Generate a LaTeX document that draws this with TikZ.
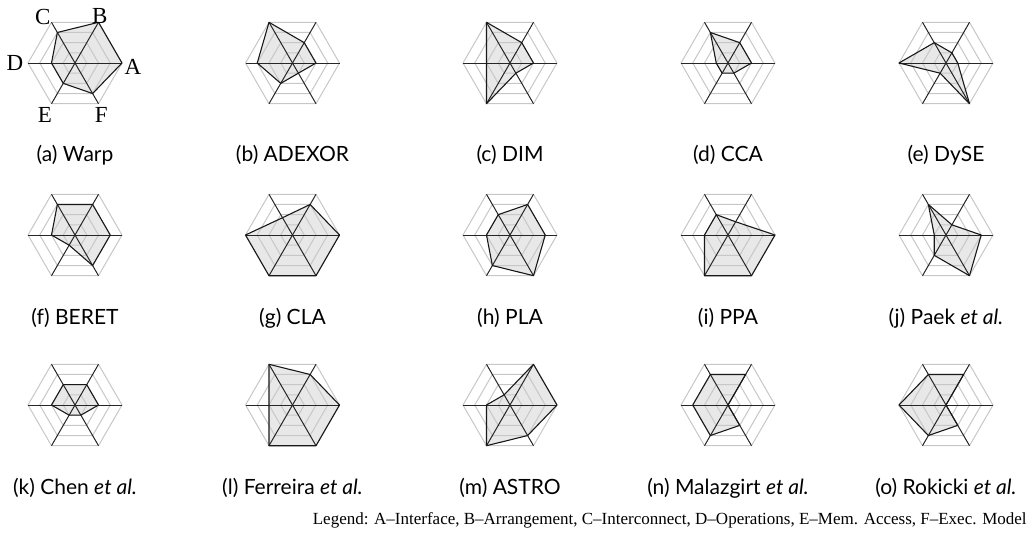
\documentclass[tikz,border=0pt]{standalone}
\usepackage{fontspec}
\setmainfont{Liberation Serif}
\newfontfamily\capfont{Lato}
\begin{document}
\begin{tikzpicture}[x=0.5pt,y=0.5pt,
	ring/.style={black!22!white,line width=0.5pt},
	spoke/.style={black!85!white,line width=0.5pt},
	profile/.style={black!90!white,line width=0.55pt,line join=round},
	shade/.style={black!9!white},
	axlabel/.style={inner sep=0pt,font=\fontsize{11.5}{12}\selectfont},
	subcap/.style={inner sep=0pt,font=\capfont\fontsize{10.5}{12}\selectfont},
	]

\useasboundingbox (0,0) rectangle (1030,-543);

\pgfmathsetmacro{\ringw}{47/4}

% The fifteen charts
\foreach \cx/\cy/\ky/\va/\vb/\vc/\vd/\ve/\vf/\cap [count=\n] in {
	75/63/155/4/4/3/2/2/3/{(a) Warp},
	292.5/63/155/2/2/4/3/2/1/{(b) ADEXOR},
	510/63/155/2/2/4/2/4/1/{(c) DIM},
	728/63/155/2/2/3/1/1/1/{(d) CCA},
	946/63/155/1/1/2/4/1/4/{(e) DySE},
	75/235/318/3/3/3/2/1/3/{(f) BERET},
	292.5/235/318/4/3/1.7/4/4/4/{(g) CLA},
	510/235/318/3/3/2/2/3/4/{(h) PLA},
	728/235/318/4/1.3/2/2/4/4/{(i) PPA},
	946/235/318/3/1/3/1/2/4/{(j) Paek \textit{et al.}},
	75/405/488/2/2/2/2/1/1/{(k) Chen \textit{et al.}},
	292.5/405/488/4/3/4/2/4/4/{(l) Ferreira \textit{et al.}},
	510/405/488/4/4/1/2/4/3/{(m) ASTRO},
	728/405/488/0/3/3/3/3/2/{(n) Malazgirt \textit{et al.}},
	946/405/488/0/3/3/4/3/2/{(o) Rokicki \textit{et al.}}}{
\begin{scope}[shift={(\cx,-\cy)}]
	\fill[shade] (0:\va*\ringw) -- (60:\vb*\ringw) -- (120:\vc*\ringw)
		-- (180:\vd*\ringw) -- (240:\ve*\ringw) -- (300:\vf*\ringw) -- cycle;
	\foreach \r in {1,...,4}{
		\draw[ring] (0:\r*\ringw) -- (60:\r*\ringw) -- (120:\r*\ringw)
			-- (180:\r*\ringw) -- (240:\r*\ringw) -- (300:\r*\ringw) -- cycle;
	}
	\foreach \a in {0,60,120}{
		\draw[spoke] (\a:4*\ringw) -- (\a+180:4*\ringw);
	}
	\draw[profile] (0:\va*\ringw) -- (60:\vb*\ringw) -- (120:\vc*\ringw)
		-- (180:\vd*\ringw) -- (240:\ve*\ringw) -- (300:\vf*\ringw) -- cycle;
\end{scope}
\node[subcap] (cap\n) at (\cx,-\ky) {\cap};
}

% The axis names of the first chart
\begin{scope}[shift={(75,-63)}]
\node[axlabel] (labA) at (-4:58) {A};
\node[axlabel] (labB) at (62:53) {B};
\node[axlabel] (labC) at (125:56) {C};
\node[axlabel] (labD) at (180:60) {D};
\node[axlabel] (labE) at (240:60) {E};
\node[axlabel] (labF) at (297:58) {F};
\end{scope}

\node[inner sep=0pt,anchor=east,font=\fontsize{8.5}{10}\selectfont] (legend) at (1027,-520)
	{Legend: A–Interface, B–Arrangement, C–Interconnect, D–Operations, E–Mem. Access, F–Exec. Model};

\end{tikzpicture}
\end{document}
